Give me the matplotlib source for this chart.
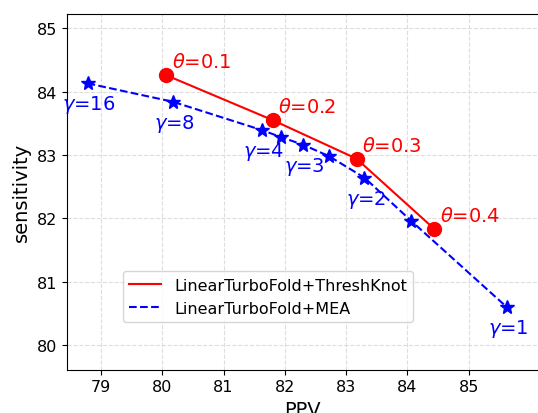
import matplotlib
matplotlib.use('Agg')
import matplotlib.pyplot as plt

# ThreshKnot points (PPV, sensitivity) for each threshold
theta_labels = ['0.1', '0.2', '0.3', '0.4']
thresh_ppv = [80.06, 81.80, 83.17, 84.44]
thresh_sens = [84.26, 83.55, 82.94, 81.83]

# MEA points for each gamma (only some are labelled)
gamma_labels = ['16', '8', '4', '', '3', '', '2', '', '1']
mea_ppv = [78.78, 80.17, 81.63, 81.94, 82.30, 82.72, 83.30, 84.06, 85.63]
mea_sens = [84.13, 83.84, 83.39, 83.28, 83.16, 82.98, 82.64, 81.96, 80.59]

fig = plt.figure(figsize=(5.38, 4.14), dpi=100)
ax = fig.add_axes([0.124, 0.105, 0.878, 0.8595])

# lines carry the legend, markers drawn on top without labels
ax.plot(thresh_ppv, thresh_sens, '-', color='red', lw=1.5,
        label='LinearTurboFold+ThreshKnot')
ax.plot(mea_ppv, mea_sens, '--', color='blue', lw=1.5,
        label='LinearTurboFold+MEA')
ax.plot(thresh_ppv, thresh_sens, 'o', color='red', markersize=10)
ax.plot(mea_ppv, mea_sens, '*', color='blue', markersize=10)

for x, y, t in zip(thresh_ppv, thresh_sens, theta_labels):
    ax.annotate(r'$\theta$=' + t, (x, y), xytext=(4, 3), textcoords='offset points',
                ha='left', va='bottom', color='red', fontsize=14)

for x, y, g in zip(mea_ppv, mea_sens, gamma_labels):
    if not g:
        continue
    ax.annotate(r'$\gamma$=' + g, (x, y), xytext=(1, -15), textcoords='offset points',
                ha='center', va='center', color='blue', fontsize=14)

ax.set_xlim(78.44, 86.15)
ax.set_ylim(79.61, 85.23)
ax.set_xticks(range(79, 86))
ax.set_yticks(range(80, 86))
ax.tick_params(labelsize=11.5)
ax.grid(True, linestyle='--', color='#dddddd', lw=0.8)
ax.set_xlabel('PPV', fontsize=14)
ax.set_ylabel('sensitivity', fontsize=14)

ax.legend(loc='lower left', bbox_to_anchor=(0.119, 0.1335), borderaxespad=0, fontsize=11.5)

fig.savefig('out.png', dpi=100)
